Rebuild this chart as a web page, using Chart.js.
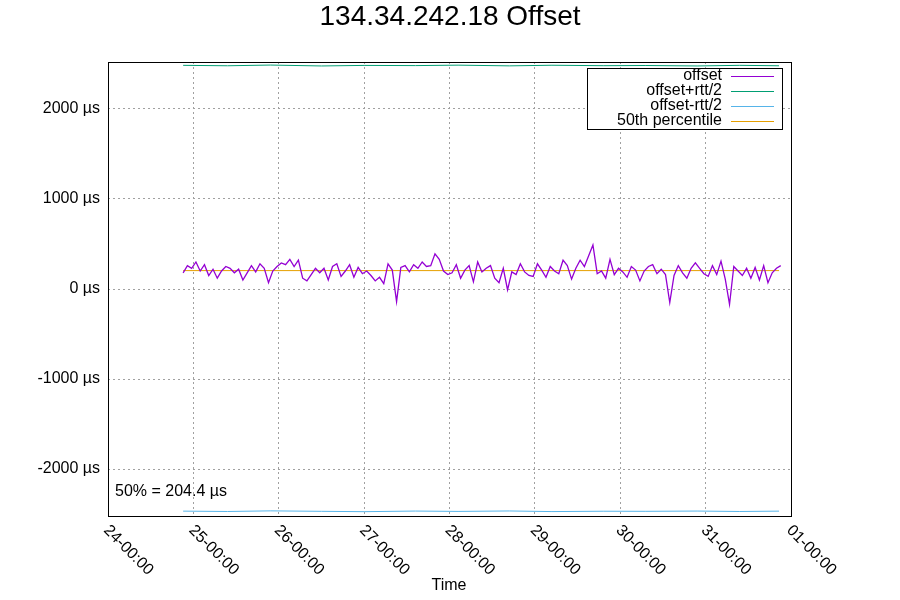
<!DOCTYPE html>
<html>
<head>
<meta charset="utf-8">
<script src="https://cdn.jsdelivr.net/npm/chart.js@4"></script>
<style>body{margin:0;background:#fff}#wrap{width:900px;height:600px}</style>
</head>
<body>
<div id="wrap"><canvas id="chart"></canvas></div>
<script>
// x axis: days since 24-00:00
const dayLabels = ["24-00:00","25-00:00","26-00:00","27-00:00","28-00:00","29-00:00","30-00:00","31-00:00","01-00:00"];
const yTicks = [-2000, -1000, 0, 1000, 2000];

const startDay = 0.88, stepDay = 0.05;
const offsetVals = [
  180,260,230,300,200,270,150,220,120,200,250,230,180,
  220,100,180,260,190,280,230,70,200,250,
  290,270,330,250,320,120,90,160,230,180,
  230,100,250,280,140,200,270,130,240,170,
  200,150,90,130,60,280,210,-140,240,260,
  190,270,230,300,250,260,390,330,200,160,
  180,270,120,210,260,80,300,190,230,260,
  120,70,230,-10,190,160,280,190,150,140,
  280,210,130,250,200,170,320,260,110,230,
  320,250,370,490,170,200,120,330,160,230,
  190,130,250,210,90,200,250,270,170,220,
  160,-150,150,260,180,120,230,290,230,170,
  140,260,160,310,110,-170,250,200,150,230,
  120,240,100,260,70,180,230,260
];
const rttDays = [0.88,1.4,1.9,2.5,3.0,3.6,4.1,4.7,5.2,5.8,6.3,6.9,7.4,7.86];
const plusVals = [2485,2480,2488,2478,2484,2482,2487,2479,2486,2481,2483,2478,2485,2480];
const minusVals = [-2468,-2472,-2465,-2470,-2474,-2467,-2471,-2466,-2473,-2469,-2470,-2467,-2472,-2468];
const median = 204.4;

const offsetPts = offsetVals.map((v, i) => ({x: startDay + i * stepDay, y: v}));
const plusPts = rttDays.map((d, i) => ({x: d, y: plusVals[i]}));
const minusPts = rttDays.map((d, i) => ({x: d, y: minusVals[i]}));
const medianPts = [{x: startDay, y: median}, {x: 7.86, y: median}];

const series = [
  {label: "offset", color: "#9400d3", data: offsetPts},
  {label: "offset+rtt/2", color: "#009e73", data: plusPts},
  {label: "offset-rtt/2", color: "#56b4e9", data: minusPts},
  {label: "50th percentile", color: "#e69f00", data: medianPts}
];

const FONT = "'Liberation Sans', Arial, sans-serif";

// gnuplot style texts: title, slanted x labels, legend box, median note
const decor = {
  id: "decor",
  afterDraw(chart) {
    const ctx = chart.ctx, a = chart.chartArea, xs = chart.scales.x;
    ctx.save();
    ctx.fillStyle = "#000";
    ctx.font = "28px " + FONT;
    ctx.textAlign = "center"; ctx.textBaseline = "middle";
    ctx.fillText("134.34.242.18 Offset", 450, 17);
    ctx.font = "16px " + FONT;
    ctx.textAlign = "left";
    dayLabels.forEach((t, i) => {
      const px = xs.getPixelForValue(i);
      ctx.save();
      ctx.translate(px - 2, a.bottom + 12);
      ctx.rotate(Math.PI / 4);
      ctx.fillText(t, 0, 0);
      ctx.restore();
    });
    ctx.textAlign = "center";
    ctx.fillText("Time", 449, 586);
    ctx.textAlign = "left";
    ctx.fillText("50% = 204.4 µs", 115, 492);
    // legend
    const lx = 587, ly = 68, lw = 195, lh = 61;
    ctx.fillStyle = "#fff"; ctx.fillRect(lx, ly, lw, lh);
    ctx.strokeStyle = "#000"; ctx.lineWidth = 1;
    ctx.strokeRect(lx + 0.5, ly + 0.5, lw, lh);
    ctx.textAlign = "right";
    series.forEach((s, i) => {
      const y = ly + 8 + i * 15;
      ctx.fillStyle = "#000";
      ctx.fillText(s.label, 722, y);
      ctx.strokeStyle = s.color;
      ctx.beginPath(); ctx.moveTo(731, y + 0.5); ctx.lineTo(774, y + 0.5); ctx.stroke();
    });
    ctx.strokeStyle = "#000";
    ctx.strokeRect(a.left + 0.5, a.top + 0.5, a.right - a.left, a.bottom - a.top);
    ctx.restore();
  }
};

new Chart(document.getElementById("chart"), {
  type: "line",
  data: {
    datasets: series.map(s => ({
      label: s.label, data: s.data, borderColor: s.color,
      borderWidth: s.label === "offset" ? 1.3 : 1, pointRadius: 0, tension: 0
    }))
  },
  options: {
    responsive: true, maintainAspectRatio: false, animation: false,
    layout: {padding: {top: 62, right: 109, left: 0, bottom: 0}},
    plugins: {legend: {display: false}, tooltip: {enabled: false}},
    scales: {
      x: {
        type: "linear", min: 0, max: 8,
        ticks: {display: false, stepSize: 1},
        grid: {color: "#a0a0a0", drawTicks: false},
        border: {display: false, dash: [2, 3]},
        afterFit(s) { s.height = 84; }
      },
      y: {
        min: -2522, max: 2522,
        afterBuildTicks(s) { s.ticks = yTicks.map(v => ({value: v})); },
        ticks: {color: "#000", font: {size: 16, family: FONT}, padding: 8,
                callback: v => v + " µs"},
        grid: {color: "#a0a0a0", drawTicks: false},
        border: {display: false, dash: [2, 3]},
        afterFit(s) { s.width = 108; }
      }
    }
  },
  plugins: [decor]
});
</script>
</body>
</html>
